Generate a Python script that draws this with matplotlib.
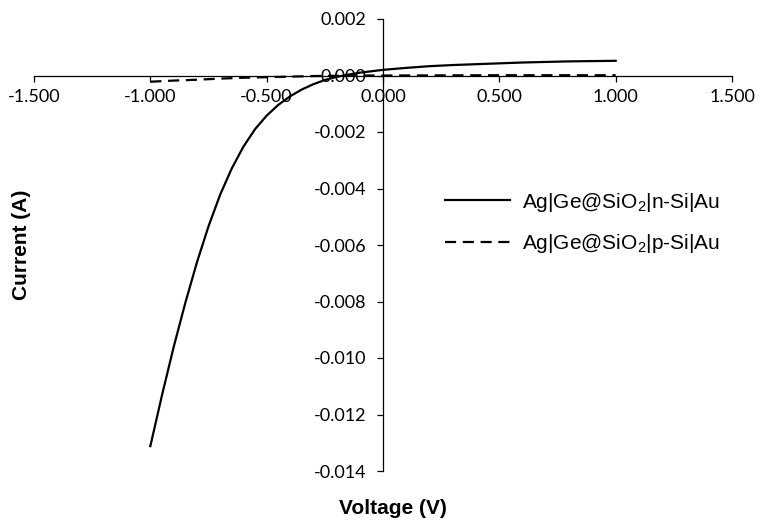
import matplotlib
matplotlib.use("Agg")
import matplotlib.pyplot as plt
from matplotlib.ticker import MultipleLocator, FormatStrFormatter

plt.rcParams["axes.unicode_minus"] = False
plt.rcParams["mathtext.fontset"] = "custom"
plt.rcParams["mathtext.rm"] = "Liberation Sans"

# I-V sweep, n-type substrate
voltage_n = [-1.0, -0.95, -0.9, -0.85, -0.8, -0.75, -0.7, -0.65, -0.6, -0.55,
             -0.5, -0.45, -0.4, -0.35, -0.3, -0.25, -0.2, -0.15, -0.1, -0.05,
             0.0, 0.1, 0.2, 0.3, 0.4, 0.5, 0.6, 0.7, 0.8, 0.9, 1.0]
current_n = [-0.01312, -0.01132, -0.00962, -0.00806, -0.00662, -0.00534,
             -0.00422, -0.00329, -0.00252, -0.00190, -0.00142, -0.00104,
             -0.00074, -0.00050, -0.00031, -0.00016, -0.00005, 0.00003,
             0.00010, 0.00015, 0.00020, 0.00027, 0.00033, 0.00037, 0.00040,
             0.00043, 0.00046, 0.00048, 0.00050, 0.00051, 0.00052]

# I-V sweep, p-type substrate
voltage_p = [-1.0, -0.9, -0.8, -0.7, -0.6, -0.5, -0.4, -0.3, -0.2, -0.1,
             0.0, 0.5, 1.0]
current_p = [-0.00022, -0.00018, -0.00015, -0.00011, -0.00008, -0.00006,
             -0.00004, -0.00002, -0.00001, 0.0, 0.0, 0.00001, 0.00001]

labels = [r"Ag|Ge@SiO$_\mathregular{2}$|n-Si|Au",
          r"Ag|Ge@SiO$_\mathregular{2}$|p-Si|Au"]

fig = plt.figure(figsize=(7.59, 5.20), dpi=100)
ax = fig.add_axes([34 / 759, 1 - 471 / 520, (732 - 34) / 759, (471 - 19) / 520])

ax.plot(voltage_n, current_n, color="black", lw=1.6, zorder=3,
        solid_joinstyle="round", label=labels[0])
ax.plot(voltage_p, current_p, color="black", lw=1.6, ls=(0, (5, 3)),
        zorder=3, label=labels[1])

ax.set_xlim(-1.5, 1.5)
ax.set_ylim(-0.014, 0.002)

# axes cross at the origin, Excel style
ax.spines["left"].set_position(("data", 0))
ax.spines["bottom"].set_position(("data", 0))
ax.spines["top"].set_visible(False)
ax.spines["right"].set_visible(False)
for side in ("left", "bottom"):
    ax.spines[side].set_linewidth(0.9)

ax.xaxis.set_major_locator(MultipleLocator(0.5))
ax.yaxis.set_major_locator(MultipleLocator(0.002))
ax.xaxis.set_major_formatter(FormatStrFormatter("%.3f"))
ax.yaxis.set_major_formatter(FormatStrFormatter("%.3f"))
ax.tick_params(axis="both", direction="out", length=4, width=0.9,
               labelsize=13, colors="black")
ax.tick_params(axis="x", pad=6)
ax.tick_params(axis="y", pad=8)
for lab in ax.get_xticklabels() + ax.get_yticklabels():
    lab.set_fontfamily("Lato")

fig.text(22 / 759, 1 - 245 / 520, "Current (A)", rotation=90, ha="center",
         va="center", fontsize=15, fontweight="bold", family="Liberation Sans")
fig.text(393 / 759, 1 - 508 / 520, "Voltage (V)", ha="center", va="center",
         fontsize=15, fontweight="bold", family="Liberation Sans")

ax.legend(loc="center left", bbox_to_anchor=(445 / 759, 1 - 223 / 520),
          bbox_transform=fig.transFigure, frameon=False, borderpad=0,
          borderaxespad=0, handlelength=3.1, handletextpad=0.6,
          labelspacing=0.9, prop={"family": "Liberation Sans", "size": 15})

fig.savefig("out.png", dpi=100)
